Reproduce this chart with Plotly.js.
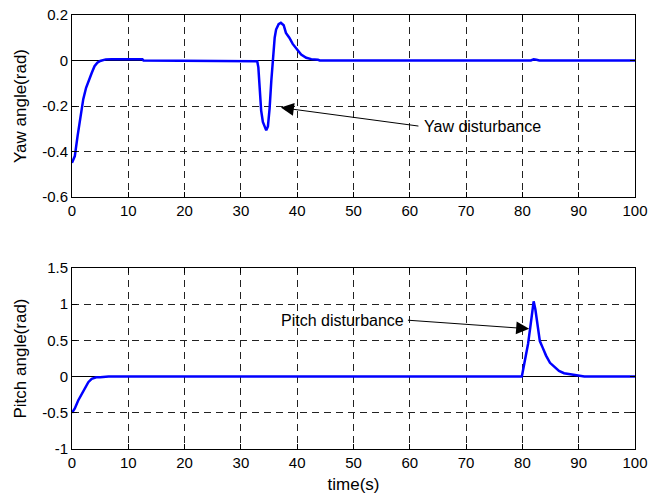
<!DOCTYPE html>
<html>
<head>
<meta charset="utf-8">
<script src="https://cdn.plot.ly/plotly-3.0.1.min.js"></script>
<style>html,body{margin:0;padding:0;background:#fff;}#chart{width:651px;height:496px;}</style>
</head>
<body>
<div id="chart"></div>
<script>
// ---- data ----
const yawTime  = [0, 0.5, 1, 1.5, 2, 2.5, 3, 3.5, 4, 4.5, 5, 6, 7, 12.5, 12.7, 28, 28.2, 32.9, 33.1, 33.3, 33.6, 33.9, 34.5, 34.8, 35.1, 35.4, 35.7, 36.0, 36.25, 36.7, 37.1, 37.6, 38.0, 38.6, 39.2, 40, 40.7, 41.6, 42.5, 43.7, 44, 81.5, 82, 82.5, 83, 100];
const yawAngle = [-0.45, -0.42, -0.33, -0.25, -0.17, -0.12, -0.085, -0.055, -0.025, -0.01, -0.002, 0.005, 0.006, 0.006, 0.0, 0.0, -0.003, -0.003, -0.03, -0.12, -0.22, -0.27, -0.307, -0.29, -0.21, -0.09, 0.012, 0.1, 0.136, 0.16, 0.166, 0.155, 0.121, 0.1, 0.073, 0.048, 0.026, 0.012, 0.006, 0.003, 0, 0, 0.005, 0.003, 0, 0];

const pitchTime  = [0, 0.5, 1.1, 1.7, 2.3, 2.9, 3.5, 4.3, 5, 5.9, 6.5, 79.9, 80.2, 80.6, 81.0, 81.4, 81.7, 82.0, 82.3, 82.7, 83.1, 83.6, 84.2, 84.9, 85.8, 86.5, 87.4, 88.6, 89.7, 90.4, 91, 100];
const pitchAngle = [-0.5, -0.44, -0.33, -0.24, -0.145, -0.077, -0.032, -0.01, -0.009, -0.003, 0, 0, 0.124, 0.26, 0.45, 0.68, 0.86, 1.04, 0.93, 0.68, 0.49, 0.4, 0.29, 0.19, 0.124, 0.078, 0.046, 0.032, 0.018, 0.005, 0, 0];

const xTickVals = [0, 10, 20, 30, 40, 50, 60, 70, 80, 90, 100];
const xTickText = ['0', '10', '20', '30', '40', '50', '60', '70', '80', '90', '100'];
const yawTickVals = [-0.6, -0.4, -0.2, 0, 0.2];
const yawTickText = ['-0.6', '-0.4', '-0.2', '0', '0.2'];
const pitchTickVals = [-1, -0.5, 0, 0.5, 1, 1.5];
const pitchTickText = ['-1', '-0.5', '0', '0.5', '1', '1.5'];

const yawLabel = 'Yaw angle(rad)';
const pitchLabel = 'Pitch angle(rad)';
const timeLabel = 'time(s)';
const yawNote = 'Yaw disturbance';
const pitchNote = 'Pitch disturbance';
// annotation anchor points (data coords): [headX, headY, tailX, tailY]
const yawArrow = [37.1, -0.207, 61.8, -0.289];
const pitchArrow = [81.2, 0.66, 59.4, 0.78];

// ---- styling ----
const FONT = 'Liberation Sans, Arial, Helvetica, sans-serif';
const tickFont = {family: FONT, size: 15, color: '#000'};
function xAxis(anchor, title) {
  const a = {
    anchor: anchor, domain: [0, 1], range: [0, 100],
    tickmode: 'array', tickvals: xTickVals, ticktext: xTickText,
    ticks: 'inside', ticklen: 5, tickcolor: '#000', tickwidth: 1,
    showline: true, linecolor: '#000', linewidth: 1, mirror: 'ticks',
    showgrid: true, gridcolor: '#222', gridwidth: 1, griddash: '7px,5px',
    zeroline: false, tickfont: tickFont, fixedrange: true
  };
  if (title) a.title = {text: title, font: {family: FONT, size: 17, color: '#000'}, standoff: 8};
  return a;
}
function yAxis(anchor, domain, range, vals, text, title) {
  return {
    anchor: anchor, domain: domain, range: range,
    tickmode: 'array', tickvals: vals, ticktext: text,
    ticks: 'inside', ticklen: 5, tickcolor: '#000', tickwidth: 1,
    showline: true, linecolor: '#000', linewidth: 1, mirror: 'ticks',
    showgrid: true, gridcolor: '#222', gridwidth: 1, griddash: '7px,5px',
    zeroline: true, zerolinecolor: '#000', zerolinewidth: 1,
    tickfont: tickFont, fixedrange: true,
    title: {text: title, font: {family: FONT, size: 17, color: '#000'}, standoff: 11}
  };
}

const traces = [
  {x: yawTime, y: yawAngle, xaxis: 'x', yaxis: 'y', type: 'scatter', mode: 'lines',
   line: {color: '#0000ff', width: 2.5}, showlegend: false, hoverinfo: 'skip'},
  {x: pitchTime, y: pitchAngle, xaxis: 'x2', yaxis: 'y2', type: 'scatter', mode: 'lines',
   line: {color: '#0000ff', width: 2.5}, showlegend: false, hoverinfo: 'skip'}
];

const annFont = {family: FONT, size: 16, color: '#000'};
const layout = {
  width: 651, height: 496,
  margin: {l: 72, r: 16, t: 15, b: 47, pad: 0},
  paper_bgcolor: '#fff', plot_bgcolor: '#fff',
  showlegend: false,
  xaxis: xAxis('y', null),
  yaxis: yAxis('x', [0.5806, 1], [-0.6, 0.2], yawTickVals, yawTickText, yawLabel),
  xaxis2: xAxis('y2', timeLabel),
  yaxis2: yAxis('x2', [0, 0.4171], [-1, 1.5], pitchTickVals, pitchTickText, pitchLabel),
  annotations: [
    {xref: 'x', yref: 'y', axref: 'x', ayref: 'y',
     x: yawArrow[0], y: yawArrow[1], ax: yawArrow[2], ay: yawArrow[3],
     text: '', showarrow: true, arrowhead: 2, arrowsize: 2.6, arrowwidth: 1, arrowcolor: '#000', standoff: 0, startstandoff: 0},
    {xref: 'x', yref: 'y', x: yawArrow[2], y: yawArrow[3], text: yawNote, showarrow: false,
     xanchor: 'left', yanchor: 'middle', xshift: 2, font: annFont},
    {xref: 'x2', yref: 'y2', axref: 'x2', ayref: 'y2',
     x: pitchArrow[0], y: pitchArrow[1], ax: pitchArrow[2], ay: pitchArrow[3],
     text: '', showarrow: true, arrowhead: 2, arrowsize: 2.6, arrowwidth: 1, arrowcolor: '#000', standoff: 0, startstandoff: 0},
    {xref: 'x2', yref: 'y2', x: pitchArrow[2], y: pitchArrow[3], text: pitchNote, showarrow: false,
     xanchor: 'right', yanchor: 'middle', xshift: 0, font: annFont}
  ]
};

Plotly.newPlot('chart', traces, layout, {staticPlot: true, displayModeBar: false});
</script>
</body>
</html>
